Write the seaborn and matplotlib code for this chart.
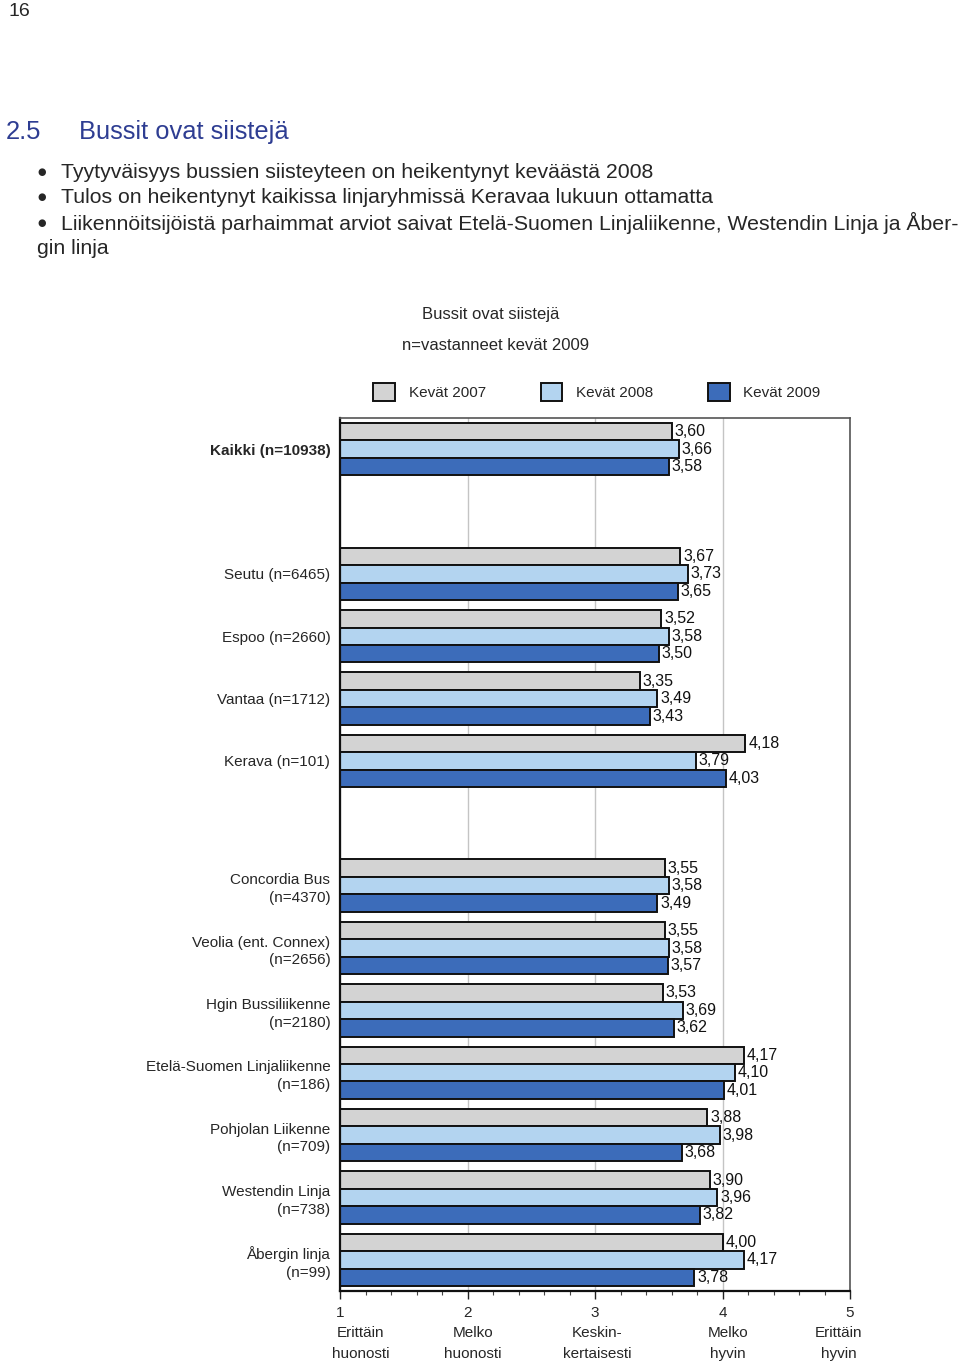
import numpy as np
import pandas as pd
import matplotlib
matplotlib.use("Agg")
import matplotlib.pyplot as plt
from matplotlib.ticker import MultipleLocator
from matplotlib.transforms import blended_transform_factory
import seaborn as sns

# data
groups = [
    "Kaikki (n=10938)",
    "Seutu (n=6465)",
    "Espoo (n=2660)",
    "Vantaa (n=1712)",
    "Kerava (n=101)",
    "Concordia Bus\n(n=4370)",
    "Veolia (ent. Connex)\n(n=2656)",
    "Hgin Bussiliikenne\n(n=2180)",
    "Etelä-Suomen Linjaliikenne\n(n=186)",
    "Pohjolan Liikenne\n(n=709)",
    "Westendin Linja\n(n=738)",
    "Åbergin linja\n(n=99)",
]
kevat_2007 = [3.60, 3.67, 3.52, 3.35, 4.18, 3.55, 3.55, 3.53, 4.17, 3.88, 3.90, 4.00]
kevat_2008 = [3.66, 3.73, 3.58, 3.49, 3.79, 3.58, 3.58, 3.69, 4.10, 3.98, 3.96, 4.17]
kevat_2009 = [3.58, 3.65, 3.50, 3.43, 4.03, 3.49, 3.57, 3.62, 4.01, 3.68, 3.82, 3.78]
series_names = ["Kevät 2007", "Kevät 2008", "Kevät 2009"]
scale_ticks = [1, 2, 3, 4, 5]
scale_words = ["Erittäin\nhuonosti", "Melko\nhuonosti", "Keskin-\nkertaisesti",
               "Melko\nhyvin", "Erittäin\nhyvin"]
# the word labels sit a little off the tick marks in the original
scale_word_x = [1.16, 2.04, 3.02, 4.04, 4.91]

COLORS = ["#D3D3D3", "#B3D4F0", "#3C6CBA"]

sns.set_theme(style="white")
plt.rcParams["font.family"] = ["Liberation Sans", "DejaVu Sans"]
plt.rcParams["font.size"] = 11

df = pd.DataFrame({
    "group": np.repeat(groups, 3),
    "year": series_names * len(groups),
    "value": np.ravel(np.column_stack([kevat_2007, kevat_2008, kevat_2009])),
})

# blank slots separate the total, the regions and the operators
order = [groups[0], "_gap1"] + groups[1:5] + ["_gap2"] + groups[5:]

fig = plt.figure(figsize=(9.6, 13.64), dpi=100)
ax = fig.add_axes([340 / 960, 1 - 1291 / 1364, 510 / 960, 873 / 1364])

sns.barplot(data=df, y="group", x="value", hue="year", order=order,
            hue_order=series_names, palette=COLORS, saturation=1, orient="h",
            width=0.84, gap=0, edgecolor="#111111", linewidth=1.4,
            errorbar=None, ax=ax)

for cont in ax.containers:
    labels = [f"{b.get_width():.2f}".replace(".", ",") for b in cont]
    ax.bar_label(cont, labels=labels, padding=2, fontsize=11.5, color="#111111")

ax.set_xlim(1, 5)
ax.set_ylim(len(order) - 0.5, -0.5)
ax.set_xticks(scale_ticks, labels=[str(t) for t in scale_ticks])
ax.xaxis.set_minor_locator(MultipleLocator(0.2))
ax.tick_params(axis="x", which="major", direction="out", length=6, width=1,
               color="#222222", labelsize=11, pad=5, bottom=True)
ax.tick_params(axis="x", which="minor", direction="out", length=3, width=0.8,
               color="#444444", bottom=True)
word_tr = blended_transform_factory(ax.transData, fig.transFigure)
for x, word in zip(scale_word_x, scale_words):
    ax.text(x, 1 - 1326 / 1364, word, transform=word_tr,
            ha="center", va="top", fontsize=11, linespacing=1.6)

ytick_labels = ["" if g.startswith("_gap") else g for g in order]
ax.set_yticks(range(len(order)), labels=ytick_labels)
ax.tick_params(axis="y", length=0, labelsize=11, pad=7)
for lbl in ax.get_yticklabels():
    lbl.set_horizontalalignment("right")
    lbl.set_multialignment("right")
    lbl.set_linespacing(1.35)
    if lbl.get_text().startswith("Kaikki"):
        lbl.set_fontweight("bold")

ax.set_xlabel("")
ax.set_ylabel("")
ax.grid(axis="x", which="major", color="#C4C4C4", linewidth=1)
ax.set_axisbelow(True)
for side in ["left", "bottom"]:
    ax.spines[side].set_color("#111111")
    ax.spines[side].set_linewidth(1.6)
for side in ["top", "right"]:
    ax.spines[side].set_color("#555555")
    ax.spines[side].set_linewidth(1.2)

sns.move_legend(ax, "center", bbox_to_anchor=(597 / 960, 1 - 392 / 1364),
                bbox_transform=fig.transFigure, ncol=3, frameon=False, title=None,
                fontsize=11, handlelength=1.4, handleheight=1.4,
                handletextpad=0.9, columnspacing=3.6)

fig.text(491 / 960, 1 - 314 / 1364, "Bussit ovat siistejä", ha="center", va="center", fontsize=12)
fig.text(496 / 960, 1 - 345 / 1364, "n=vastanneet kevät 2009", ha="center", va="center", fontsize=12)

# page text above the chart
fig.text(8 / 960, 1 - 12 / 1364, "16", ha="left", va="center", fontsize=14)
fig.text(6 / 960, 1 - 132 / 1364, "2.5", ha="left", va="center", fontsize=18.4, color="#2E3D92")
fig.text(79 / 960, 1 - 132 / 1364, "Bussit ovat siistejä", ha="left", va="center",
         fontsize=18.4, color="#2E3D92")
bullets = [
    "Tyytyväisyys bussien siisteyteen on heikentynyt keväästä 2008",
    "Tulos on heikentynyt kaikissa linjaryhmissä Keravaa lukuun ottamatta",
    "Liikennöitsijöistä parhaimmat arviot saivat Etelä-Suomen Linjaliikenne, Westendin Linja ja Åber-",
]
for i, t in enumerate(bullets):
    y = 1 - (172 + 25.3 * i) / 1364
    fig.text(42 / 960, y, "●", ha="center", va="center", fontsize=7,
             family=["DejaVu Sans"])
    fig.text(61 / 960, y, t, ha="left", va="center", fontsize=15.3)
fig.text(37 / 960, 1 - 248 / 1364, "gin linja", ha="left", va="center", fontsize=15.3)

fig.savefig("out.png", dpi=100)
